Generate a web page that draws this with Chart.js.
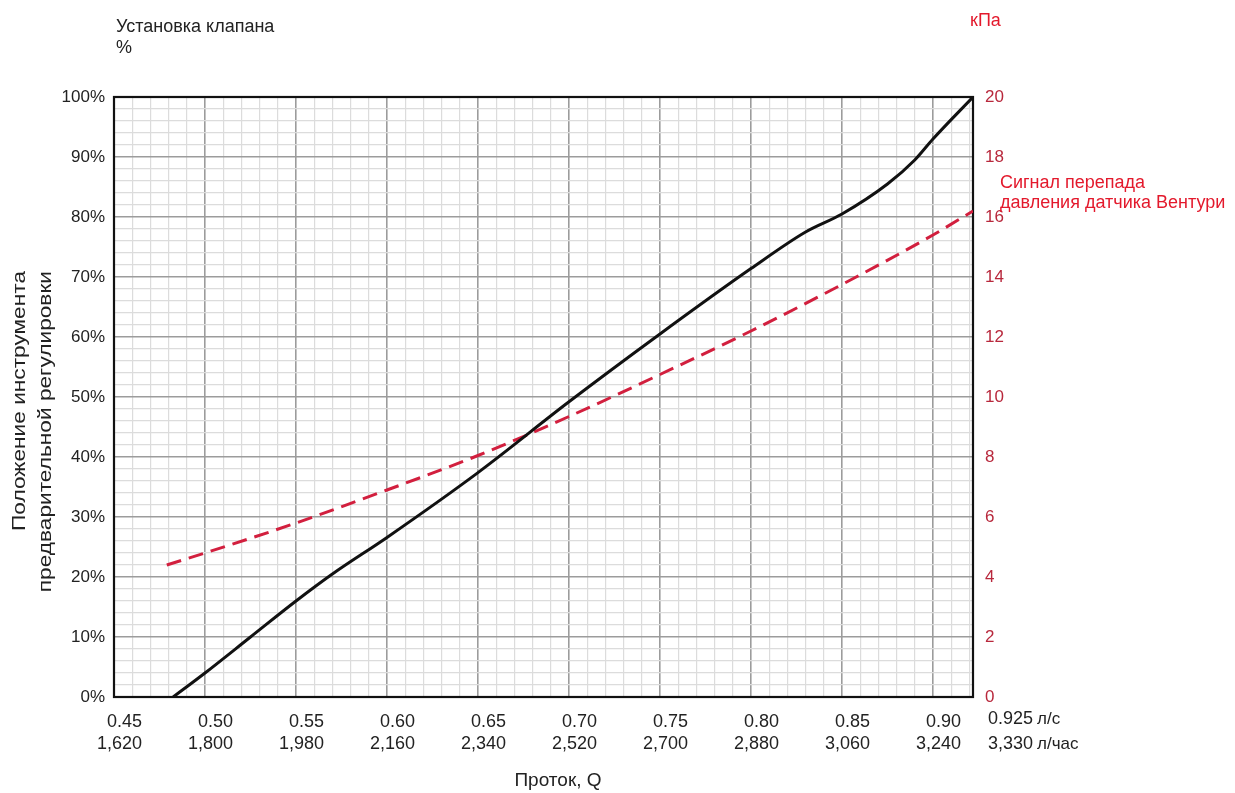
<!DOCTYPE html>
<html lang="ru">
<head>
<meta charset="utf-8">
<title>Установка клапана — проток</title>
<script src="https://cdn.jsdelivr.net/npm/chart.js@4.4.1/dist/chart.umd.min.js"></script>
<style>
  html, body { margin: 0; padding: 0; background: #ffffff; }
  #wrap { width: 1235px; height: 793px; position: relative; }
</style>
</head>
<body>
<div id="wrap"><canvas id="chart" width="1235" height="793"></canvas></div>
<script>
// Valve pre-setting curve: flow (l/s) vs. tool position (%)
const valveFlow = [0.4825, 0.50, 0.525, 0.55, 0.57, 0.60, 0.65, 0.70, 0.75, 0.80, 0.83, 0.85, 0.875, 0.89, 0.90, 0.922];
const valvePosition = [0, 4.0, 10.0, 16.0, 20.5, 26.6, 37.4, 49.2, 60.5, 71.4, 77.5, 80.5, 85.5, 89.5, 93.0, 100];

// Venturi differential pressure signal: flow (l/s) vs. kPa
const venturiFlow = [0.479, 0.50, 0.55, 0.60, 0.65, 0.70, 0.75, 0.80, 0.85, 0.90, 0.922];
const venturiKPa = [4.4, 4.8, 5.8, 6.9, 8.05, 9.35, 10.75, 12.2, 13.75, 15.4, 16.2];

// Flow axis labels: l/s and l/h
const flowTicks = [0.45, 0.50, 0.55, 0.60, 0.65, 0.70, 0.75, 0.80, 0.85, 0.90];
const flowTickLs = ['0.45', '0.50', '0.55', '0.60', '0.65', '0.70', '0.75', '0.80', '0.85', '0.90'];
const flowTickLh = ['1,620', '1,800', '1,980', '2,160', '2,340', '2,520', '2,700', '2,880', '3,060', '3,240'];
const flowEndLs = '0.925';
const flowEndLh = '3,330';
const flowMin = 0.45;
const flowMax = 0.922;

// Left and right value axes
const positionMin = 0, positionMax = 100, positionMajor = 10, positionMinor = 2;
const pressureMin = 0, pressureMax = 20, pressureStep = 2;

const FONT = '"Liberation Sans", Arial, sans-serif';
const RED_AXIS = '#b8283c';
const RED_TEXT = '#e3192c';
const RED_LINE = '#d21f3e';
const GRID_MAJOR = '#9c9c9c';
const GRID_MINOR = '#dcdcdc';

function isMultiple(v, step) {
  const r = Math.round(v * 1000) % Math.round(step * 1000);
  return r === 0;
}

const annotations = {
  id: 'annotations',
  beforeDatasetsDraw(chart) {
    const { ctx, chartArea: a } = chart;
    ctx.save();
    ctx.strokeStyle = '#111111';
    ctx.lineWidth = 2.2;
    ctx.strokeRect(a.left, a.top, a.right - a.left, a.bottom - a.top);
    ctx.restore();
  },
  afterDraw(chart) {
    const { ctx, chartArea: a } = chart;
    const xs = chart.scales.x;
    ctx.save();
    ctx.textBaseline = 'middle';

    // flow tick labels, two rows
    ctx.fillStyle = '#222222';
    ctx.font = '18px ' + FONT;
    ctx.textAlign = 'right';
    flowTicks.forEach((v, i) => {
      const px = xs.getPixelForValue(v) + 28;
      ctx.fillText(flowTickLs[i], px, 722);
      ctx.fillText(flowTickLh[i], px, 744);
    });
    const endX = a.right + 60;
    ctx.fillText(flowEndLs, endX, 719);
    ctx.fillText(flowEndLh, endX, 744);
    ctx.textAlign = 'left';
    ctx.font = '17px ' + FONT;
    ctx.fillText('л/с', endX + 4, 719);
    ctx.fillText('л/час', endX + 4, 744);

    // axis titles
    ctx.font = '18px ' + FONT;
    ctx.fillStyle = '#222222';
    ctx.fillText('Установка клапана', 116, 27);
    ctx.fillText('%', 116, 48);

    ctx.textAlign = 'center';
    ctx.font = '19px ' + FONT;
    ctx.fillText('Проток, Q', 558, 781);

    // rotated left title, set a little wider along its baseline
    ctx.save();
    ctx.font = '18px ' + FONT;
    ctx.textAlign = 'right';
    ctx.translate(20, 271);
    ctx.rotate(-Math.PI / 2);
    ctx.scale(1.26, 1);
    ctx.fillText('Положение инструмента', 0, 0);
    ctx.fillText('предварительной регулировки', 0, 26);
    ctx.restore();

    ctx.fillStyle = RED_TEXT;
    ctx.textAlign = 'left';
    ctx.font = '18px ' + FONT;
    ctx.fillText('кПа', 970, 21);
    ctx.fillText('Сигнал перепада', 1000, 183);
    ctx.fillText('давления датчика Вентури', 1000, 203);
    ctx.restore();
  }
};

new Chart(document.getElementById('chart'), {
  type: 'line',
  data: {
    datasets: [
      {
        label: 'Положение инструмента',
        data: valveFlow.map((x, i) => ({ x, y: valvePosition[i] })),
        yAxisID: 'y',
        borderColor: '#111111',
        borderWidth: 3,
        pointRadius: 0,
        cubicInterpolationMode: 'monotone',
        fill: false
      },
      {
        label: 'Сигнал перепада давления датчика Вентури',
        data: venturiFlow.map((x, i) => ({ x, y: venturiKPa[i] })),
        yAxisID: 'y2',
        borderColor: RED_LINE,
        borderWidth: 3,
        borderDash: [15, 8],
        pointRadius: 0,
        cubicInterpolationMode: 'monotone',
        fill: false
      }
    ]
  },
  options: {
    responsive: false,
    animation: false,
    layout: { padding: { top: 97, left: 0, right: 0, bottom: 0 } },
    plugins: { legend: { display: false }, tooltip: { enabled: false } },
    scales: {
      x: {
        type: 'linear',
        min: flowMin,
        max: flowMax,
        afterBuildTicks(scale) {
          const ticks = [];
          const n = Math.floor((flowMax - flowMin) / 0.01 + 1e-6);
          for (let k = 0; k <= n; k++) ticks.push({ value: +(flowMin + k * 0.01).toFixed(2) });
          scale.ticks = ticks;
        },
        afterFit(scale) { scale.height = 96; },
        ticks: { display: false },
        border: { display: false },
        grid: {
          drawTicks: false,
          color: (c) => (c.tick && isMultiple(c.tick.value, 0.05) ? GRID_MAJOR : GRID_MINOR),
          lineWidth: (c) => (c.tick && isMultiple(c.tick.value, 0.05) ? 1.6 : 1.2)
        }
      },
      y: {
        position: 'left',
        min: positionMin,
        max: positionMax,
        afterFit(scale) { scale.width = 114; },
        border: { display: false },
        ticks: {
          stepSize: positionMinor,
          padding: 9,
          color: '#222222',
          font: { family: FONT, size: 17 },
          autoSkip: false,
          callback: (v) => (isMultiple(v, positionMajor) ? v + '%' : '')
        },
        grid: {
          drawTicks: false,
          color: (c) => (c.tick && isMultiple(c.tick.value, positionMajor) ? GRID_MAJOR : GRID_MINOR),
          lineWidth: (c) => (c.tick && isMultiple(c.tick.value, positionMajor) ? 1.6 : 1.2)
        }
      },
      y2: {
        position: 'right',
        min: pressureMin,
        max: pressureMax,
        afterFit(scale) { scale.width = 262; },
        border: { display: false },
        ticks: {
          stepSize: pressureStep,
          padding: 12,
          color: RED_AXIS,
          font: { family: FONT, size: 17 },
          autoSkip: false
        },
        grid: { drawOnChartArea: false, drawTicks: false }
      }
    }
  },
  plugins: [annotations]
});
</script>
</body>
</html>
